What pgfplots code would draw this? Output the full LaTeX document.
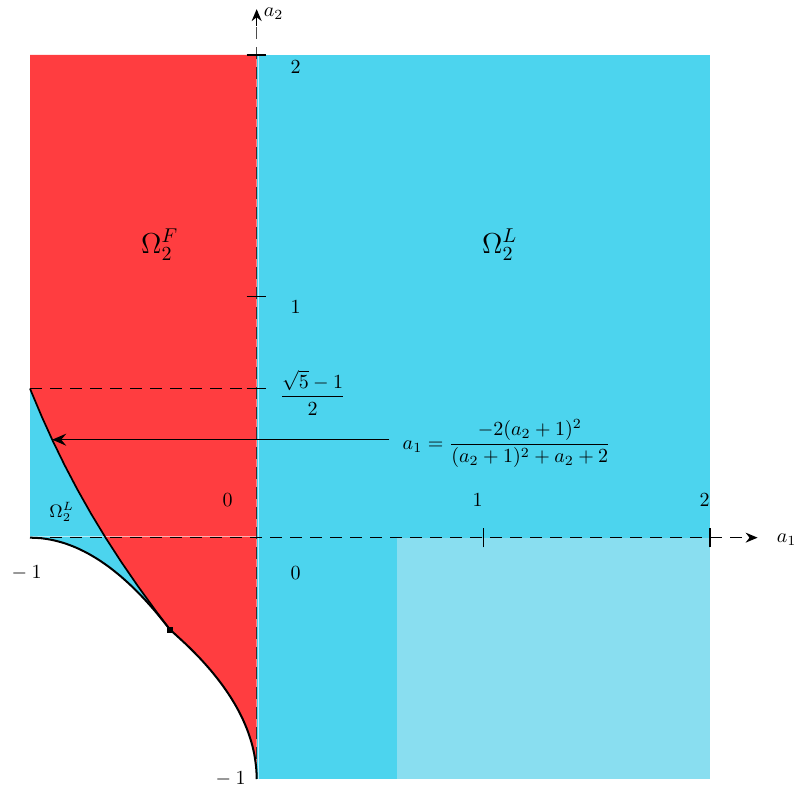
\documentclass[border=0pt]{standalone}
\usepackage{pgfplots}
\pgfplotsset{compat=1.18}
\usetikzlibrary{arrows.meta}
\definecolor{regF}{RGB}{255,61,64}
\definecolor{regL}{RGB}{76,212,238}
\definecolor{regLlight}{RGB}{137,222,240}

% a2 = -(a1+1)^2, from (-1,0) to the meeting point
\pgfplotstableread{
x y
-1 0
-0.95 -0.0025
-0.9 -0.01
-0.85 -0.0225
-0.8 -0.04
-0.75 -0.0625
-0.7 -0.09
-0.65 -0.1225
-0.6 -0.16
-0.55 -0.2025
-0.5 -0.25
-0.45 -0.3025
-0.4 -0.36
-0.382 -0.382
}\upperparab

% a1 = -(a2+1)^2, from the meeting point to (0,-1)
\pgfplotstableread{
x y
-0.382 -0.382
-0.36 -0.4
-0.3025 -0.45
-0.25 -0.5
-0.2025 -0.55
-0.16 -0.6
-0.1225 -0.65
-0.09 -0.7
-0.0625 -0.75
-0.04 -0.8
-0.0225 -0.85
-0.01 -0.9
-0.0025 -0.95
-0.0004 -0.98
0 -1
}\lowerparab

% a1 = -2(a2+1)^2/((a2+1)^2+a2+2)
\pgfplotstableread{
x y
-0.382 -0.382
-0.4475 -0.3
-0.5246 -0.2
-0.5978 -0.1
-0.6667 0
-0.7311 0.1
-0.7912 0.2
-0.8471 0.3
-0.8991 0.4
-0.9474 0.5
-0.9922 0.6
-1 0.618
}\boundary

\begin{document}
\begin{tikzpicture}
\useasboundingbox (-15pt,-6pt) rectangle (383pt,389.5pt);
\begin{axis}[at={(0pt,0pt)}, anchor=south west, scale only axis,
  width=340pt, height=362pt, xmin=-1, xmax=2, ymin=-1, ymax=2,
  hide axis, clip=false]

% regions
\addplot[fill=regL, draw=none] coordinates {(0,-1) (2,-1) (2,2) (0,2)};
\addplot[fill=regLlight, draw=none] coordinates {(0.618,-1) (2,-1) (2,0) (0.618,0)};
\addplot[fill=regF, draw=none] coordinates {
(-1,2) (0,2) (0,-1) (-0.0004,-0.98) (-0.0025,-0.95) (-0.01,-0.9) (-0.0225,-0.85)
(-0.04,-0.8) (-0.0625,-0.75) (-0.09,-0.7) (-0.1225,-0.65) (-0.16,-0.6)
(-0.2025,-0.55) (-0.25,-0.5) (-0.3025,-0.45) (-0.36,-0.4) (-0.382,-0.382)
(-0.4475,-0.3) (-0.5246,-0.2) (-0.5978,-0.1) (-0.6667,0) (-0.7311,0.1)
(-0.7912,0.2) (-0.8471,0.3) (-0.8991,0.4) (-0.9474,0.5) (-0.9922,0.6) (-1,0.618)};
\addplot[fill=regL, draw=none] coordinates {
(-1,0.618) (-1,0) (-0.95,-0.0025) (-0.9,-0.01) (-0.85,-0.0225) (-0.8,-0.04)
(-0.75,-0.0625) (-0.7,-0.09) (-0.65,-0.1225) (-0.6,-0.16) (-0.55,-0.2025)
(-0.5,-0.25) (-0.45,-0.3025) (-0.4,-0.36) (-0.382,-0.382)
(-0.4475,-0.3) (-0.5246,-0.2) (-0.5978,-0.1) (-0.6667,0) (-0.7311,0.1)
(-0.7912,0.2) (-0.8471,0.3) (-0.8991,0.4) (-0.9474,0.5) (-0.9922,0.6)};

% light seams along the region edges
\draw[white, opacity=0.6, line width=0.5pt] (axis cs:0.006,-1) -- (axis cs:0.006,2);
\draw[white, opacity=0.6, line width=0.5pt] (axis cs:-1,0.005) -- (axis cs:0,0.005);

% boundary curves
\addplot[black, line width=1pt, smooth] table {\upperparab};
\addplot[black, line width=1pt, smooth] table {\lowerparab};
\addplot[black, line width=0.85pt] table {\boundary};
\addplot[only marks, mark=square*, mark size=1.2pt, black] coordinates {(-0.382,-0.382)};

% axes
\draw[line width=0.6pt, dash pattern=on 6pt off 4pt,
  -{Stealth[length=6pt,width=5pt]}] (axis cs:-1,0) -- (axis cs:2.21,0);
\draw[black, opacity=0.7, line width=0.6pt, dash pattern=on 6pt off 4pt]
  (axis cs:0,-1) -- (axis cs:0,2.14);
\draw[line width=0.6pt, -{Stealth[length=6pt,width=5pt]}] (axis cs:0,2.12) -- (axis cs:0,2.19);
\draw[line width=0.6pt, dash pattern=on 6pt off 4pt] (axis cs:-1,0.618) -- (axis cs:-0.04,0.618);

% ticks
\draw[line width=0.8pt] (axis cs:-0.044,2) -- (axis cs:0.04,2);
\draw[line width=0.8pt] (axis cs:-0.044,1) -- (axis cs:0.04,1);
\draw[line width=0.7pt] (axis cs:-0.044,0.618) -- (axis cs:0.04,0.618);
\draw[line width=0.8pt] (axis cs:1,-0.04) -- (axis cs:1,0.04);
\draw[line width=0.8pt] (axis cs:2,-0.04) -- (axis cs:2,0.04);

% tick labels
\node at (axis cs:0.172,1.951) {$2$};
\node at (axis cs:0.172,0.957) {$1$};
\node at (axis cs:0.247,0.6) {$\displaystyle\frac{\sqrt{5}-1}{2}$};
\node at (axis cs:-0.128,0.157) {$0$};
\node at (axis cs:0.172,-0.145) {$0$};
\node at (axis cs:0.975,0.157) {$1$};
\node at (axis cs:1.976,0.157) {$2$};
\node at (axis cs:-1.015,-0.145) {$-\:1$};
\node at (axis cs:-0.115,-1.0) {$-\:1$};
\node at (axis cs:2.338,-0.008) {$a_1$};
\node at (axis cs:0.075,2.171) {$a_2$};

% region names
\node[font=\Large] at (axis cs:-0.428,1.214) {$\Omega_2^F$};
\node[font=\Large] at (axis cs:1.072,1.214) {$\Omega_2^L$};
\node[font=\small] at (axis cs:-0.86,0.108) {$\Omega_2^L$};

% boundary formula with pointer
\node at (axis cs:1.103,0.39) {$\displaystyle a_1=\frac{-2(a_2+1)^2}{(a_2+1)^2+a_2+2}$};
\draw[line width=0.6pt, -{Stealth[length=7pt,width=6pt,inset=2.5pt]}]
  (axis cs:0.585,0.406) -- (axis cs:-0.902,0.406);
\end{axis}
\end{tikzpicture}
\end{document}
